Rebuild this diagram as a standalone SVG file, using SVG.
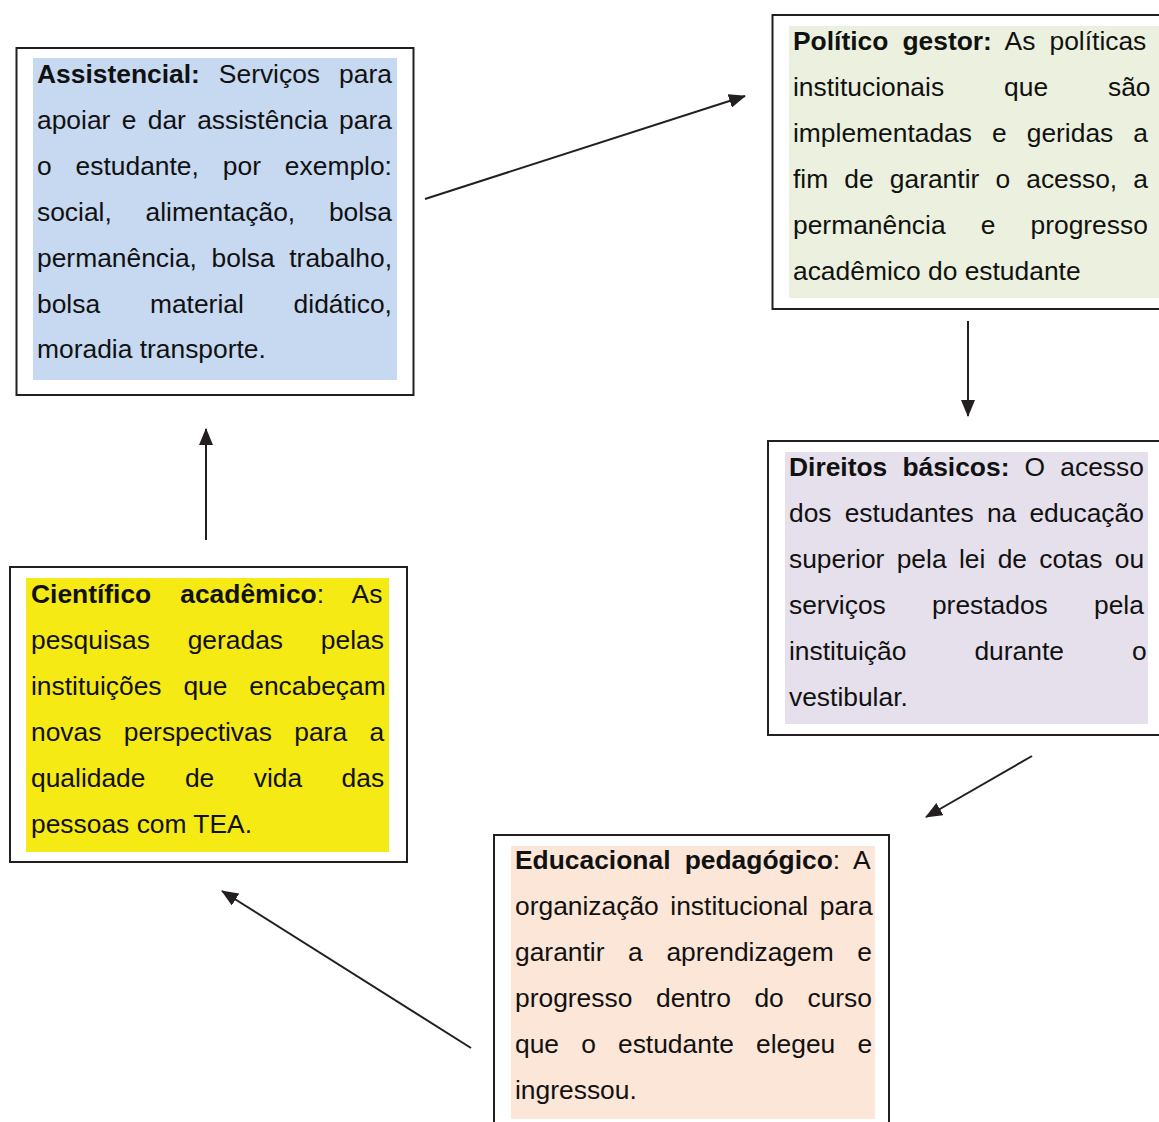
<svg xmlns="http://www.w3.org/2000/svg" width="1159" height="1122" viewBox="0 0 1159 1122">
<style>
.border{fill:#ffffff;stroke:#231F20;stroke-width:2}
.t{font-family:"Liberation Sans",Arial,sans-serif;font-size:26.4px;fill:#111111}
.b{font-weight:bold}
.conn{stroke:#231F20;stroke-width:2;fill:none;marker-end:url(#arr)}
</style>
<defs>
<marker id="arr" markerUnits="userSpaceOnUse" viewBox="0 0 17 14" markerWidth="17" markerHeight="14" refX="16" refY="7" orient="auto">
<path d="M0,0 L17,7 L0,14 z" fill="#231F20"/>
</marker>
</defs>
<rect width="1159" height="1122" fill="#ffffff"/>

<g id="assistencial">
<rect class="border" x="16.5" y="48" width="397" height="347"/>
<rect x="33" y="58" width="364" height="322" fill="#C6D9F1"/>
<text class="t" x="37" y="83" word-spacing="11.7"><tspan class="b">Assistencial:</tspan> Serviços para</text>
<text class="t" x="37" y="128.9" word-spacing="4">apoiar e dar assistência para</text>
<text class="t" x="37" y="174.8" word-spacing="16.6">o estudante, por exemplo:</text>
<text class="t" x="37" y="220.7" word-spacing="26.4">social, alimentação, bolsa</text>
<text class="t" x="37" y="266.6" word-spacing="7.3">permanência, bolsa trabalho,</text>
<text class="t" x="37" y="312.5" word-spacing="42.5">bolsa material didático,</text>
<text class="t" x="37" y="358.4">moradia transporte.</text>
</g>

<g id="politico">
<rect class="border" x="772.5" y="15" width="400" height="294"/>
<rect x="789" y="26" width="370" height="272" fill="#EBF1DE"/>
<text class="t" x="793" y="50" word-spacing="6.8"><tspan class="b">Político gestor:</tspan> As políticas</text>
<text class="t" x="793" y="96" word-spacing="52.6">institucionais que são</text>
<text class="t" x="793" y="142" word-spacing="12.7">implementadas e geridas a</text>
<text class="t" x="793" y="188" word-spacing="8.8">fim de garantir o acesso, a</text>
<text class="t" x="793" y="234" word-spacing="27.8">permanência e progresso</text>
<text class="t" x="793" y="280">acadêmico do estudante</text>
</g>

<g id="direitos">
<rect class="border" x="768" y="441" width="400" height="294"/>
<rect x="785" y="452" width="363" height="272" fill="#E5E0EC"/>
<text class="t" x="789" y="476" word-spacing="7.8"><tspan class="b">Direitos básicos:</tspan> O acesso</text>
<text class="t" x="789" y="522" word-spacing="5.8">dos estudantes na educação</text>
<text class="t" x="789" y="568" word-spacing="5">superior pela lei de cotas ou</text>
<text class="t" x="789" y="614" word-spacing="38.8">serviços prestados pela</text>
<text class="t" x="789" y="660" word-spacing="60.7">instituição durante o</text>
<text class="t" x="789" y="706">vestibular.</text>
</g>

<g id="cientifico">
<rect class="border" x="10" y="567" width="397" height="295"/>
<rect x="26" y="578" width="363" height="274" fill="#F5EA14"/>
<text class="t" x="31" y="603" word-spacing="21.7"><tspan class="b">Científico acadêmico</tspan>: As</text>
<text class="t" x="31" y="649" word-spacing="30.5">pesquisas geradas pelas</text>
<text class="t" x="31" y="695" word-spacing="14.5">instituições que encabeçam</text>
<text class="t" x="31" y="741" word-spacing="15">novas perspectivas para a</text>
<text class="t" x="31" y="787" word-spacing="32.1">qualidade de vida das</text>
<text class="t" x="31" y="833">pessoas com TEA.</text>
</g>

<g id="educacional">
<rect class="border" x="494" y="835" width="395" height="300"/>
<rect x="511" y="846" width="364" height="273" fill="#FCE6D8"/>
<text class="t" x="515" y="869" word-spacing="6.9"><tspan class="b">Educacional pedagógico</tspan>: A</text>
<text class="t" x="515" y="915" word-spacing="4.2">organização institucional para</text>
<text class="t" x="515" y="961" word-spacing="16.3">garantir a aprendizagem e</text>
<text class="t" x="515" y="1007" word-spacing="16.3">progresso dentro do curso</text>
<text class="t" x="515" y="1053" word-spacing="14.8">que o estudante elegeu e</text>
<text class="t" x="515" y="1099">ingressou.</text>
</g>

<g id="connectors">
<line class="conn" x1="425" y1="199" x2="745" y2="96"/>
<line class="conn" x1="968" y1="321" x2="968" y2="416"/>
<line class="conn" x1="1032" y1="756" x2="926" y2="817"/>
<line class="conn" x1="471" y1="1048" x2="222" y2="891"/>
<line class="conn" x1="206" y1="540" x2="206" y2="429"/>
</g>
</svg>
